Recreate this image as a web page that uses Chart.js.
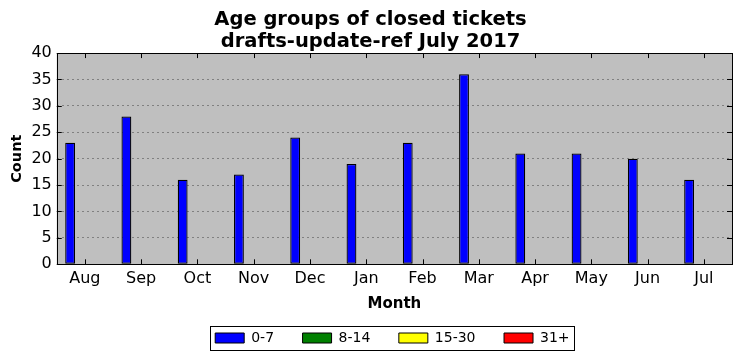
<!DOCTYPE html>
<html><head><meta charset="utf-8">
<script src="https://cdn.jsdelivr.net/npm/chart.js@4"></script>
<style>html,body{margin:0;padding:0;background:#fff}#wrap{width:741px;height:361px}</style>
</head><body><div id="wrap"><canvas id="c" width="741" height="361"></canvas></div>
<script>
const months = ["Aug","Sep","Oct","Nov","Dec","Jan","Feb","Mar","Apr","May","Jun","Jul"];
const seriesNames = ["0-7","8-14","15-30","31+"];
const seriesColors = ["#0000ff","#008000","#ffff00","#ff0000"];
const age0to7 = [23,28,16,17,24,19,23,36,21,21,20,16];
const age8to14 = [0,0,0,0,0,0,0,0,0,0,0,0];
const age15to30 = [0,0,0,0,0,0,0,0,0,0,0,0];
const age31plus = [0,0,0,0,0,0,0,0,0,0,0,0];
const yTicks = [0,5,10,15,20,25,30,35,40];
const allSeries = [age0to7, age8to14, age15to30, age31plus];
const FONT = "'DejaVu Sans', sans-serif";

const framePlugin = {
  id: 'frame',
  afterLayout(chart) {
    const a = chart.chartArea;
    const lg = chart.legend;
    if (lg) {
      lg.left = a.left - 4;
      lg.right = a.right;
    }
  },
  beforeDraw(chart) {
    const {ctx, chartArea: a} = chart;
    ctx.save();
    ctx.fillStyle = '#bfbfbf';
    ctx.fillRect(a.left, a.top, a.right - a.left, a.bottom - a.top);
    ctx.restore();
  },
  afterDraw(chart) {
    const {ctx, chartArea: a} = chart;
    ctx.save();
    ctx.strokeStyle = '#000';
    ctx.lineWidth = 1;
    ctx.strokeRect(Math.round(a.left)+0.5, Math.round(a.top)+0.5, Math.round(a.right-a.left), Math.round(a.bottom-a.top));
    const xs = chart.scales.x, ys = chart.scales.y;
    ctx.beginPath();
    xs.ticks.forEach((t, i) => {
      const px = Math.round(xs.getPixelForTick(i)) + 0.5;
      ctx.moveTo(px, a.bottom); ctx.lineTo(px, a.bottom - 5);
      ctx.moveTo(px, a.top); ctx.lineTo(px, a.top + 5);
    });
    ys.ticks.forEach((t, i) => {
      const py = Math.round(ys.getPixelForTick(i)) + 0.5;
      ctx.moveTo(a.left, py); ctx.lineTo(a.left + 5, py);
      ctx.moveTo(a.right, py); ctx.lineTo(a.right - 5, py);
    });
    ctx.stroke();
    const lg = chart.legend;
    if (lg && lg.legendHitBoxes && lg.legendHitBoxes.length) {
      const hb = lg.legendHitBoxes;
      const l = hb[0].left - 5;
      const last = hb[hb.length - 1];
      const r = last.left + last.width + 5;
      const cy = hb[0].top + hb[0].height / 2;
      ctx.strokeRect(Math.round(l)+0.5, Math.round(cy - 12)+0.5, Math.round(r-l), 24);
    }
    ctx.restore();
  }
};

new Chart(document.getElementById('c'), {
  type: 'bar',
  data: {
    labels: months,
    datasets: seriesNames.map((n, i) => ({
      label: n,
      data: allSeries[i],
      backgroundColor: seriesColors[i],
      borderColor: '#000',
      borderWidth: 1.25,
      borderSkipped: false,
      categoryPercentage: 0.7,
      barPercentage: 1.0
    }))
  },
  options: {
    responsive: false,
    animation: false,
    layout: { padding: { left: 9, right: 9, top: 0, bottom: 6 } },
    plugins: {
      title: {
        display: true,
        text: ['Age groups of closed tickets', 'drafts-update-ref July 2017'],
        color: '#000',
        font: { family: FONT, size: 19.5, weight: 'bold', lineHeight: 1.13 },
        padding: { top: 9, bottom: 0 }
      },
      legend: {
        position: 'bottom',
        labels: {
          color: '#000',
          font: { family: FONT, size: 14 },
          boxWidth: 29,
          boxHeight: 10,
          padding: 28.5,
          generateLabels(chart) {
            return chart.data.datasets.map((d, i) => ({
              text: d.label, fillStyle: d.backgroundColor, strokeStyle: '#000',
              lineWidth: 1, datasetIndex: i, hidden: false, fontColor: '#000'
            }));
          }
        }
      },
      tooltip: { enabled: false }
    },
    scales: {
      x: {
        offset: true,
        grid: { display: false, drawTicks: false },
        border: { display: false },
        ticks: { color: '#000', font: { family: FONT, size: 16 }, padding: 5, maxRotation: 0 },
        title: { display: true, text: 'Month', color: '#000', font: { family: FONT, size: 15, weight: 'bold' }, padding: { top: 2, bottom: -11 } }
      },
      y: {
        min: 0, max: 40,
        afterBuildTicks(scale) { scale.ticks = yTicks.map(v => ({ value: v })); },
        grid: { color: '#808080', lineWidth: 1, drawTicks: false },
        border: { display: false, dash: [2, 3] },
        ticks: { color: '#000', font: { family: FONT, size: 16 }, padding: 5 },
        title: { display: true, text: 'Count', color: '#000', font: { family: FONT, size: 14.5, weight: 'bold' }, padding: { top: 0, bottom: 0 } }
      }
    }
  },
  plugins: [framePlugin]
});
</script></body></html>
